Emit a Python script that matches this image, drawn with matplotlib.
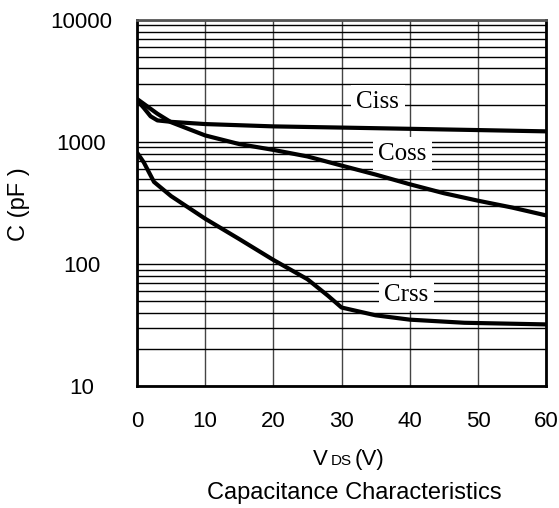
import numpy as np
import matplotlib
matplotlib.use('Agg')
import matplotlib.pyplot as plt
from matplotlib.offsetbox import TextArea, HPacker, AnnotationBbox

plt.rcParams.update({
    'font.family': 'Liberation Sans',
    'font.size': 16,
})

# Capacitance vs drain-source voltage (pF)
vds_ciss = [0, 1, 2, 3, 5, 10, 20, 30, 40, 50, 60]
ciss = [2200, 1900, 1620, 1500, 1460, 1400, 1340, 1310, 1280, 1250, 1220]

vds_coss = [0, 1, 3, 5, 10, 15, 20, 25, 30, 35, 40, 45, 50, 55, 60]
coss = [2250, 2050, 1700, 1450, 1130, 960, 860, 760, 640, 540, 450, 380, 330, 290, 250]

vds_crss = [0, 1, 2.5, 5, 10, 15, 20, 25, 28, 30, 35, 40, 48, 60]
crss = [820, 680, 470, 360, 235, 160, 108, 75, 55, 44, 38, 35, 33, 32]

x_ticks = [0, 10, 20, 30, 40, 50, 60]
y_ticks = [10, 100, 1000, 10000]

fig = plt.figure(figsize=(5.59, 5.08), dpi=100)
ax = fig.add_axes([0.245, 0.240, 0.732, 0.721])

ax.set_yscale('log')
ax.set_xlim(0, 60)
ax.set_ylim(10, 10000)

# grid: every 10 V, and every minor decade step
ax.set_xticks(x_ticks)
ax.set_yticks(y_ticks)
ax.set_yticklabels([str(t) for t in y_ticks], ha='center')
ax.yaxis.set_minor_locator(matplotlib.ticker.LogLocator(base=10, subs=np.arange(2, 10)))
ax.yaxis.set_minor_formatter(matplotlib.ticker.NullFormatter())
ax.grid(axis='x', which='major', color='#444444', linewidth=1.0, zorder=1)
ax.grid(axis='y', which='both', color='black', linewidth=1.0, zorder=1)
ax.tick_params(which='both', length=0)
ax.tick_params(axis='x', pad=18)
ax.tick_params(axis='y', pad=40)
for s in ax.spines.values():
    s.set_linewidth(2)
ax.spines['top'].set_color('#555555')

for v, c in [(vds_ciss, ciss), (vds_coss, coss), (vds_crss, crss)]:
    ax.plot(v, c, color='black', linewidth=3, solid_capstyle='butt', zorder=3)

box = dict(facecolor='white', edgecolor='none', pad=4)
lab = dict(family='Liberation Serif', fontsize=18, ha='center', va='center', bbox=box, zorder=4)
ax.text(35.3, 2130, 'Ciss', **lab)
ax.text(38.9, 800, 'Coss', **lab)
ax.text(39.5, 56, 'Crss', **lab)

fig.text(0.034, 0.598, 'C (pF )', rotation=90, ha='center', va='center', fontsize=17)

# x label with the DS part set smaller on the same baseline
parts = HPacker(children=[TextArea('V', textprops=dict(size=16)),
                          TextArea('DS', textprops=dict(size=11)),
                          TextArea('(V)', textprops=dict(size=16))],
                align='baseline', pad=0, sep=2)
fig.add_artist(AnnotationBbox(parts, (0.623, 0.095), xycoords='figure fraction',
                              frameon=False, box_alignment=(0.5, 0.5)))

fig.text(0.633, 0.029, 'Capacitance Characteristics', ha='center', va='center', fontsize=17)

fig.savefig('out.png', dpi=100)
